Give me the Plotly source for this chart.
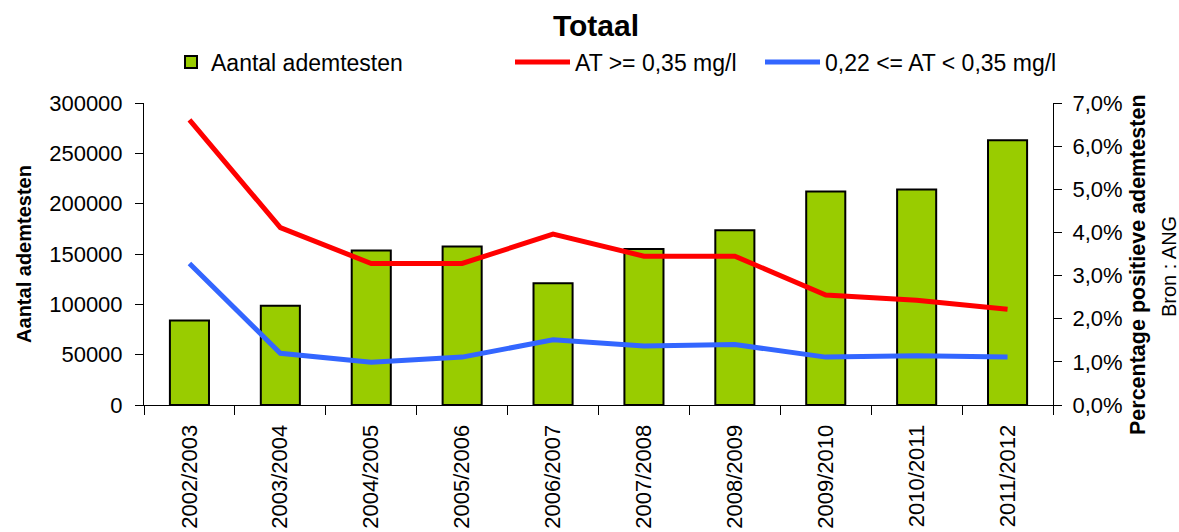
import plotly.graph_objects as go

categories = ["2002/2003", "2003/2004", "2004/2005", "2005/2006", "2006/2007",
              "2007/2008", "2008/2009", "2009/2010", "2010/2011", "2011/2012"]
aantal_ademtesten = [84000, 98500, 153500, 157500, 121000, 155000, 173500, 212000, 214000, 263000]
at_hoog = [0.0661, 0.0411, 0.0328, 0.0328, 0.0396, 0.0345, 0.0345, 0.0255, 0.0243, 0.0222]
at_midden = [0.0328, 0.0120, 0.0099, 0.0111, 0.0151, 0.0137, 0.0140, 0.0111, 0.0114, 0.0111]

FONT = "Liberation Sans, Arial, sans-serif"
W, H = 1179, 532
PL, PR, PT, PB = 144, 1053, 103, 405
L, R, T, B = PL, W - PR, PT, H - PB
PW, PH = PR - PL, PB - PT


def px(x):
    return (x - PL) / PW


def py(y):
    return (PB - y) / PH


fig = go.Figure()
fig.add_trace(go.Bar(
    x=categories, y=aantal_ademtesten, name="Aantal ademtesten",
    marker=dict(color="#99CC00", line=dict(color="black", width=2)),
    width=0.43, legend="legend",
))
fig.add_trace(go.Scatter(
    x=categories, y=at_hoog, name="AT >= 0,35 mg/l", yaxis="y2", mode="lines",
    line=dict(color="#FF0000", width=5), legend="legend2",
))
fig.add_trace(go.Scatter(
    x=categories, y=at_midden, name="0,22 <= AT < 0,35 mg/l", yaxis="y2", mode="lines",
    line=dict(color="#3366FF", width=5), legend="legend3",
))

leg_common = dict(orientation="h", yref="container", xref="container", yanchor="middle",
                  y=1 - 62 / H, font=dict(family=FONT, size=23, color="black"),
                  bgcolor="rgba(0,0,0,0)", tracegroupgap=0)

fig.update_layout(
    width=W, height=H,
    margin=dict(l=L, r=R, t=T, b=B, pad=0, autoexpand=False),
    paper_bgcolor="white", plot_bgcolor="white",
    separators=",.",
    font=dict(family=FONT, size=20, color="black"),
    title=dict(text="<b>Totaal</b>", x=596 / W, xanchor="center", xref="container",
               y=1 - 25 / H, yanchor="middle", yref="container",
               font=dict(family=FONT, size=30, color="black")),
    showlegend=True,
    legend=dict(**leg_common, x=171 / W, xanchor="left", itemwidth=30),
    legend2=dict(**leg_common, x=510 / W, xanchor="left", itemwidth=55),
    legend3=dict(**leg_common, x=760 / W, xanchor="left", itemwidth=55),
    xaxis=dict(
        type="category", tickson="boundaries", ticks="outside", ticklen=9, tickcolor="black",
        showline=True, linecolor="black", linewidth=1, showgrid=False, automargin=False,
        tickangle=-90, tickfont=dict(family=FONT, size=22), ticklabelstandoff=10,
    ),
    yaxis=dict(
        range=[0, 300000], tickvals=[0, 50000, 100000, 150000, 200000, 250000, 300000],
        tickformat="d", ticks="outside", ticklen=8, tickcolor="black",
        showline=True, linecolor="black", linewidth=1, showgrid=False, zeroline=False,
        automargin=False, tickfont=dict(family=FONT, size=22), ticklabelstandoff=8,
        title=dict(text="<b>Aantal ademtesten</b>", font=dict(family=FONT, size=20), standoff=12),
    ),
    yaxis2=dict(
        range=[0, 0.07], tickvals=[0, 0.01, 0.02, 0.03, 0.04, 0.05, 0.06, 0.07],
        tickformat=".1%", overlaying="y", side="right", ticks="outside", ticklen=8, tickcolor="black",
        showline=True, linecolor="black", linewidth=1, showgrid=False, zeroline=False,
        automargin=False, tickfont=dict(family=FONT, size=22), ticklabelstandoff=6,
    ),
    annotations=[
        dict(text="<b>Percentage positieve ademtesten</b>", xref="paper", yref="paper",
             x=px(1138), y=py(265), xanchor="center", yanchor="middle", textangle=-90,
             showarrow=False, font=dict(family=FONT, size=21.5, color="black")),
        dict(text="Bron : ANG", xref="paper", yref="paper", x=px(1169), y=py(267),
             xanchor="center", yanchor="middle", textangle=-90, showarrow=False,
             font=dict(family=FONT, size=20, color="black")),
    ],
)

fig.write_html(
    "out.html",
    config={"displayModeBar": False},
    post_script="document.body.style.margin='0';document.body.style.overflow='hidden';",
)
